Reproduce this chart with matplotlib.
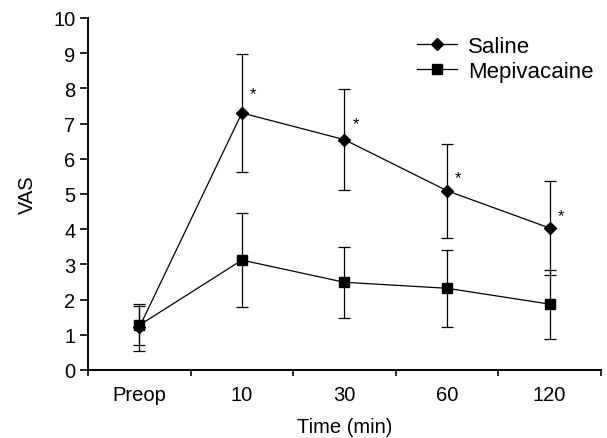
import numpy as np
import matplotlib
matplotlib.use('Agg')
import matplotlib.pyplot as plt
from matplotlib.lines import Line2D

plt.rcParams['font.family'] = ['Liberation Sans', 'DejaVu Sans']

# data
times = ['Preop', '10', '30', '60', '120']
saline = [1.21, 7.30, 6.54, 5.09, 4.03]
saline_err = [0.66, 1.68, 1.44, 1.34, 1.33]
mepi = [1.27, 3.12, 2.49, 2.32, 1.87]
mepi_err = [0.55, 1.33, 1.01, 1.10, 0.98]
star_y = [None, 7.85, 6.99, 5.46, 4.38]

fig = plt.figure(figsize=(6.07, 4.39), dpi=100)
ax = fig.add_axes([0.145, 0.155, 0.845, 0.802])

x = np.arange(len(times))
ax.errorbar(x, saline, yerr=saline_err, color='black', marker='D', markersize=6,
            linewidth=0.9, elinewidth=0.9, capsize=4.3, capthick=0.9)
ax.errorbar(x, mepi, yerr=mepi_err, color='black', marker='s', markersize=6.5,
            linewidth=0.9, elinewidth=0.9, capsize=4.3, capthick=0.9)

for i in range(len(times)):
    if star_y[i] is not None:
        ax.text(x[i] + 0.11, star_y[i], '*', fontsize=12, ha='center', va='center')

ax.set_xlim(-0.5, len(times) - 0.5)
ax.set_ylim(0, 10)
ax.set_yticks(np.arange(0, 11, 1))
ax.set_xticks(np.arange(-0.5, len(times), 1))
ax.set_xticklabels([])
ax.set_xticks(x, minor=True)
ax.set_xticklabels(times, minor=True)
ax.tick_params(axis='x', which='minor', length=0, pad=11, labelsize=14.5)
ax.tick_params(axis='x', which='major', direction='out', length=4.5, width=1.2)
ax.tick_params(axis='y', direction='out', length=6, width=1.2, labelsize=14.5, pad=3)

for s in ['top', 'right']:
    ax.spines[s].set_visible(False)
for s in ['left', 'bottom']:
    ax.spines[s].set_linewidth(1.4)

ax.set_xlabel('Time (min)', fontsize=14.5, labelpad=9)
ax.set_ylabel('VAS', fontsize=14.5, labelpad=12)

handles = [Line2D([], [], color='black', marker='D', markersize=6, linewidth=0.9),
           Line2D([], [], color='black', marker='s', markersize=6.5, linewidth=0.9)]
ax.legend(handles, ['Saline', 'Mepivacaine'], loc='upper right',
          bbox_to_anchor=(1.02, 1.0), frameon=False, fontsize=16,
          handlelength=1.8, handletextpad=0.5, labelspacing=0.2, borderpad=0.3)

fig.savefig('out.png', dpi=100)
